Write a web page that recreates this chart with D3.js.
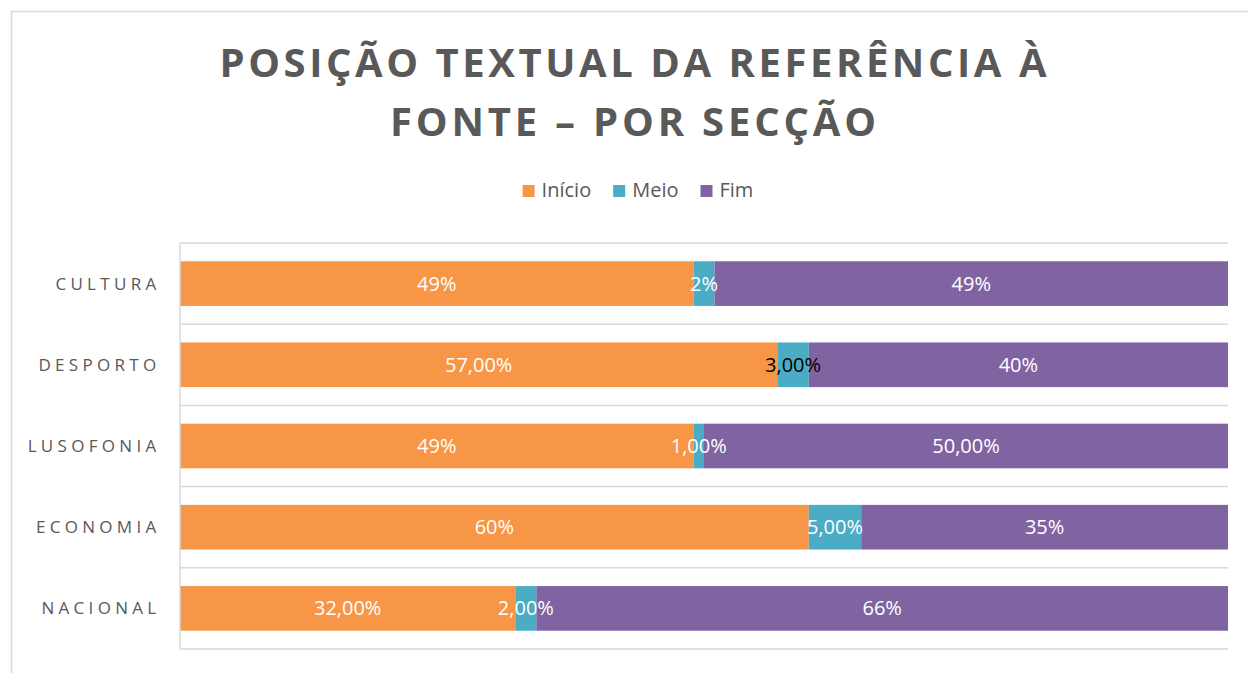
<!DOCTYPE html>
<html>
<head>
<meta charset="utf-8">
<script src="https://cdn.jsdelivr.net/npm/d3@7"></script>
<style>
  body { margin: 0; background: #fff; }
  svg { display: block; font-family: "Open Sans", sans-serif; }
</style>
</head>
<body>
<svg id="chart" width="1248" height="673"></svg>
<script>
"use strict";

//Categories (top to bottom)
var categories = ["CULTURA", "DESPORTO", "LUSOFONIA", "ECONOMIA", "NACIONAL"];

//Series names
var seriesNames = ["Início", "Meio", "Fim"];

//Share of each position, per section (%)
var inicio = [49, 57, 49, 60, 32];
var meio = [2, 3, 1, 5, 2];
var fim = [49, 40, 50, 35, 66];

//Data labels as printed in the chart
var inicioLabels = ["49%", "57,00%", "49%", "60%", "32,00%"];
var meioLabels = ["2%", "3,00%", "1,00%", "5,00%", "2,00%"];
var fimLabels = ["49%", "40%", "50,00%", "35%", "66%"];

var colors = ["#F79646", "#4BACC6", "#8064A2"];

var svg = d3.select("#chart");

//Chart frame
svg.append("rect")
  .attr("x", 11.5).attr("y", 11.5)
  .attr("width", 1400).attr("height", 900)
  .attr("fill", "none")
  .attr("stroke", "#d9d9d9")
  .attr("stroke-width", 1.5);

//Title
var titleLines = ["POSIÇÃO TEXTUAL DA REFERÊNCIA À", "FONTE – POR SECÇÃO"];
var titleWidths = [827, 486];
svg.append("g").selectAll("text")
  .data(titleLines)
  .enter().append("text")
  .attr("x", 633)
  .attr("y", function(d, i) { return 77 + i * 59; })
  .attr("text-anchor", "middle")
  .attr("fill", "#595959")
  .style("font-size", "40px")
  .style("font-weight", "bold")
  .attr("textLength", function(d, i) { return titleWidths[i]; })
  .attr("lengthAdjust", "spacing")
  .text(function(d) { return d; });

//Legend
var legend = svg.append("g");
var legendItems = legend.selectAll("g")
  .data(seriesNames)
  .enter().append("g");
legendItems.append("rect")
  .attr("width", 12).attr("height", 12)
  .attr("y", -12)
  .attr("fill", function(d, i) { return colors[i]; });
legendItems.append("text")
  .attr("x", 19)
  .attr("y", 0)
  .attr("fill", "#595959")
  .style("font-size", "20px")
  .text(function(d) { return d; });
var lx = 0;
legendItems.each(function() {
  var w = this.getBBox().width;
  d3.select(this).attr("transform", "translate(" + lx + ",0)");
  lx += w + 22;
});
lx -= 22;
legend.attr("transform", "translate(" + (638 - lx / 2) + ",197)");

//Plot area
var margin = {left: 180, right: 1228, top: 243, bottom: 649};

var x = d3.scaleLinear().domain([0, 100]).range([margin.left, margin.right]);
var y = d3.scaleBand().domain(categories)
  .range([margin.top, margin.bottom])
  .paddingInner(0.45).paddingOuter(0.225);

//Horizontal gridlines at category boundaries
var step = y.step();
svg.append("g").selectAll("line")
  .data(d3.range(categories.length + 1))
  .enter().append("line")
  .attr("x1", margin.left).attr("x2", margin.right)
  .attr("y1", function(i) { return margin.top + i * step; })
  .attr("y2", function(i) { return margin.top + i * step; })
  .attr("stroke", "#d9d9d9")
  .attr("stroke-width", 1.5);

//Stacked data
var rows = categories.map(function(c, i) {
  return {cat: c, "Início": inicio[i], "Meio": meio[i], "Fim": fim[i],
    labels: [inicioLabels[i], meioLabels[i], fimLabels[i]]};
});
var stack = d3.stack().keys(seriesNames);
var series = stack(rows);

var layer = svg.append("g").selectAll("g")
  .data(series)
  .enter().append("g")
  .attr("fill", function(d, i) { return colors[i]; });

layer.selectAll("rect")
  .data(function(d) { return d; })
  .enter().append("rect")
  .attr("x", function(d) { return x(d[0]); })
  .attr("width", function(d) { return x(d[1]) - x(d[0]); })
  .attr("y", function(d) { return y(d.data.cat); })
  .attr("height", y.bandwidth());

//Data labels
series.forEach(function(s, si) {
  svg.append("g").selectAll("text")
    .data(s)
    .enter().append("text")
    .attr("x", function(d) { return (x(d[0]) + x(d[1])) / 2; })
    .attr("y", function(d) { return y(d.data.cat) + y.bandwidth() / 2; })
    .attr("dy", "0.35em")
    .attr("text-anchor", "middle")
    .attr("fill", function(d) { return (si === 1 && d.data.cat === "DESPORTO") ? "#000" : "#fff"; })
    .style("font-size", "20px")
    .text(function(d) { return d.data.labels[si]; });
});

//Left axis line
svg.append("line")
  .attr("x1", margin.left).attr("x2", margin.left)
  .attr("y1", margin.top).attr("y2", margin.bottom)
  .attr("stroke", "#d9d9d9")
  .attr("stroke-width", 1.5);

//Category labels
svg.append("g").selectAll("text")
  .data(categories)
  .enter().append("text")
  .attr("x", 156 + 4.5)
  .attr("y", function(d) { return y(d) + y.bandwidth() / 2; })
  .attr("dy", "0.35em")
  .attr("text-anchor", "end")
  .attr("fill", "#595959")
  .style("font-size", "17px")
  .style("letter-spacing", "4.3px")
  .text(function(d) { return d; });
</script>
</body>
</html>
